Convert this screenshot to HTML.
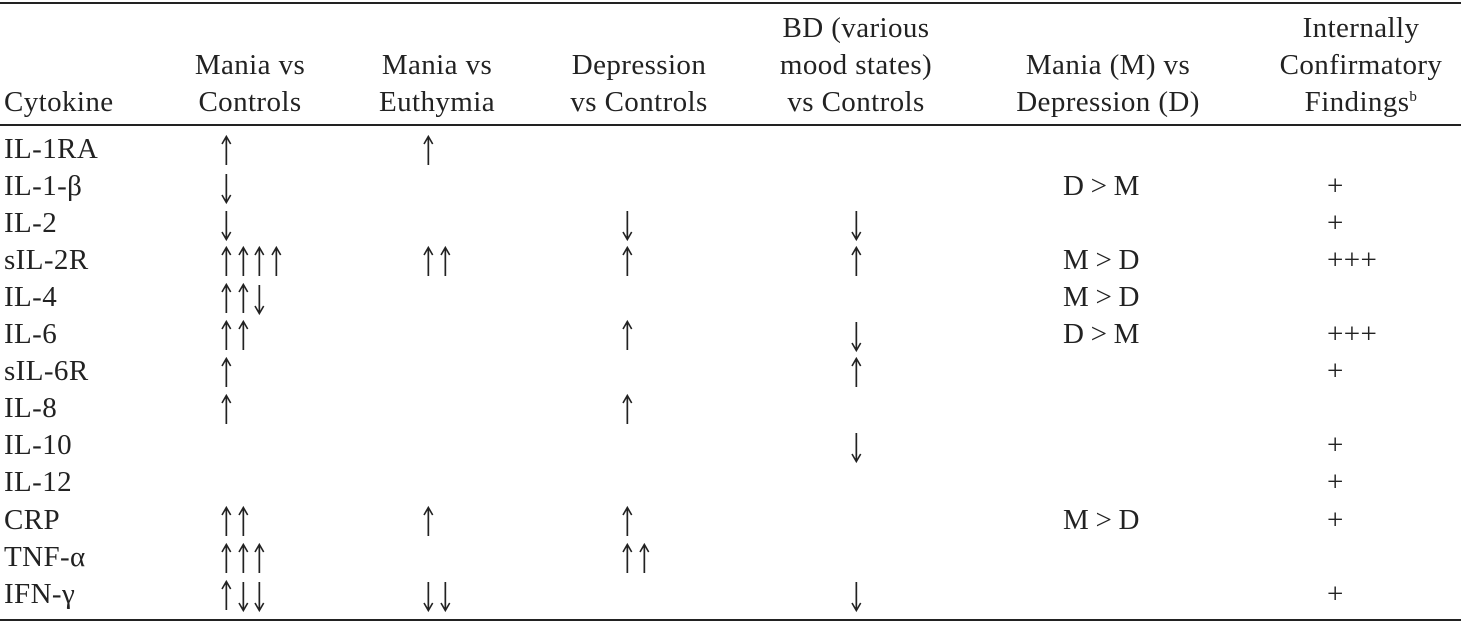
<!DOCTYPE html>
<html><head><meta charset="utf-8"><style>
body{margin:0;background:#fff;}
#t{position:relative;width:1461px;height:623px;overflow:hidden;font-family:"Liberation Serif","DejaVu Serif",serif;color:#222;font-size:29px;letter-spacing:0.4px;}
.rule{position:absolute;left:0;width:1461px;background:#222;}
.c{position:absolute;line-height:37px;white-space:nowrap;}
.h{text-align:center;}
.a{display:inline-block;width:16.7px;height:37px;vertical-align:top;}
</style></head><body>
<div id="t">
<div class="rule" style="top:2px;height:2px"></div>
<div class="rule" style="top:124px;height:2px"></div>
<div class="rule" style="top:619px;height:2px"></div>

<div class="c" style="left:4px;top:84px">Cytokine</div>
<div class="c h" style="left:150px;width:200px;top:47px">Mania vs<br>Controls</div>
<div class="c h" style="left:337px;width:200px;top:47px">Mania vs<br>Euthymia</div>
<div class="c h" style="left:539px;width:200px;top:47px">Depression<br>vs Controls</div>
<div class="c h" style="left:746px;width:220px;top:10px">BD (various<br>mood states)<br>vs Controls</div>
<div class="c h" style="left:988px;width:240px;top:47px">Mania (M) vs<br>Depression (D)</div>
<div class="c h" style="left:1261px;width:200px;top:10px">Internally<br>Confirmatory<br>Findings<sup style="font-size:15px;vertical-align:10px;line-height:0">b</sup></div>
</div>
<script>
const cytokines=["IL-1RA","IL-1-β","IL-2","sIL-2R","IL-4","IL-6","sIL-6R","IL-8","IL-10","IL-12","CRP","TNF-α","IFN-γ"];
const maniaControls=["u","d","d","uuuu","uud","uu","u","u","","","uu","uuu","udd"];
const maniaEuthymia=["u","","","uu","","","","","","","u","","dd"];
const depControls=["","","d","u","","u","","u","","","u","uu",""];
const bdControls=["","","d","u","","d","u","","d","","","","d"];
const mVsD=["","D > M","","M > D","M > D","D > M","","","","","M > D","",""];
const confirm=["","+","+","+++","","+++","+","","+","+","+","","+"];
const t=document.getElementById('t');
const UP='<svg class="a" viewBox="0 0 16.7 37"><path d="M8.35 6 V34" stroke="#222" stroke-width="1.7"/><path d="M4 13 L8.35 5.5 L12.7 13" fill="none" stroke="#222" stroke-width="1.6"/></svg>';
const DN='<svg class="a" viewBox="0 0 16.7 37"><path d="M8.35 6 V34" stroke="#222" stroke-width="1.7"/><path d="M4 27 L8.35 34.5 L12.7 27" fill="none" stroke="#222" stroke-width="1.6"/></svg>';
function arrows(s){return s.split('').map(c=>c==='u'?UP:DN).join('');}
function cell(x,y,html,name){
 const d=document.createElement('div');d.className='c';d.style.left=x+'px';d.style.top=y+'px';d.innerHTML=html;
 
 
 t.appendChild(d);}
cytokines.forEach((c,i)=>{
 const y=Math.round(131+i*37.05);
 cell(4,y,c,'cytokine-'+i);
 if(maniaControls[i])cell(218,y,arrows(maniaControls[i]),'mania-controls-'+i);
 if(maniaEuthymia[i])cell(420,y,arrows(maniaEuthymia[i]),'mania-euthymia-'+i);
 if(depControls[i])cell(619,y,arrows(depControls[i]),'depression-controls-'+i);
 if(bdControls[i])cell(848,y,arrows(bdControls[i]),'bd-controls-'+i);
 if(mVsD[i])cell(1063,y,mVsD[i].replace(/ /g,'<span style="letter-spacing:-1px"> </span>'),'mania-vs-depression-'+i);
 if(confirm[i])cell(1327,y,confirm[i],'confirmatory-'+i);
});
</script>
</body></html>
